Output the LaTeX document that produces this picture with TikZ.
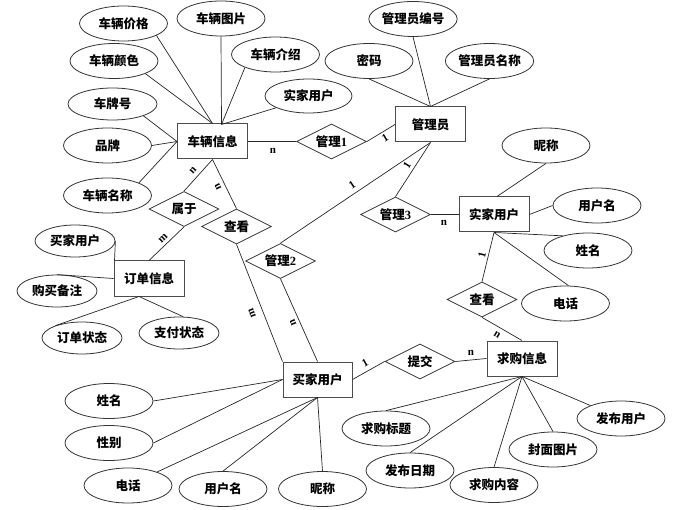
\documentclass[tikz,border=0pt]{standalone}
\usepackage{fontspec}
\setmainfont{Liberation Serif}
\newfontfamily\cjkf{Noto Sans CJK SC}
\usetikzlibrary{shapes.geometric}
\begin{document}
\begin{tikzpicture}[x=1pt,y=-1pt,
  txt/.style={font=\cjkf\bfseries\fontsize{12.5}{14}\selectfont},
  ent/.style={txt,rectangle,draw=black!70,line width=1pt,minimum width=70pt,minimum height=35pt,inner sep=0pt},
  rel/.style={txt,diamond,aspect=2,draw=black!80,line width=0.8pt,minimum width=70pt,minimum height=35pt,inner sep=0pt},
  att/.style={txt,ellipse,draw=black!80,line width=0.8pt,minimum width=88pt,minimum height=35pt,inner sep=0pt},
  small/.style={minimum width=80pt,minimum height=32pt},
  ln/.style={draw=black!85,line width=0.7pt},
  card/.style={font=\bfseries\fontsize{11}{12}\selectfont,inner sep=0pt}]
\useasboundingbox (0,0) rectangle (695,510);

% entities
\node[ent] (car) at (212.5,141.5) {车辆信息};
\node[ent] (admin) at (430.5,124.5) {管理员};
\node[ent] (seller) at (494,214.5) {实家用户};
\node[ent] (order) at (149,278.5) {订单信息};
\node[ent,minimum width=69pt] (buyer) at (317.5,379.5) {买家用户};
\node[ent] (want) at (522,358.5) {求购信息};

% relations
\node[rel] (m1) at (331.5,141.5) {管理{\rmfamily\bfseries 1}};
\node[rel] (m3) at (395.5,214.5) {管理{\rmfamily\bfseries 3}};
\node[rel] (seeR) at (482,299.5) {查看};
\node[rel] (belong) at (184,209) {属于};
\node[rel] (seeL) at (236.5,226.5) {查看};
\node[rel] (m2) at (280.5,261) {管理{\rmfamily\bfseries 2}};
\node[rel] (submit) at (420,361.5) {提交};

% attributes
\node[att] (a1) at (123.5,23.5) {车辆价格};
\node[att] (a2) at (221,18.5) {车辆图片};
\node[att] (a3) at (275.5,54.5) {车辆介绍};
\node[att] (a4) at (114,61) {车辆颜色};
\node[att,minimum width=89pt,minimum height=32pt] (a5) at (112.5,104) {车牌号};
\node[att,minimum width=87pt,minimum height=34pt] (a6) at (308.5,96) {实家用户};
\node[att] (a7) at (107.5,145.5) {品牌};
\node[att] (a8) at (107.5,195.5) {车辆名称};
\node[att] (b1) at (413,19) {管理员编号};
\node[att] (b2) at (369,61) {密码};
\node[att] (b3) at (489.5,61) {管理员名称};
\node[att] (c1) at (546,145.5) {昵称};
\node[att] (c2) at (597,205.5) {用户名};
\node[att] (c3) at (588,250.5) {姓名};
\node[att] (c4) at (565.5,303.5) {电话};
\node[att,small] (d1) at (75,241) {买家用户};
\node[att,small] (d2) at (57,291) {购买备注};
\node[att,small] (d3) at (82,338) {订单状态};
\node[att,small] (d4) at (179,333) {支付状态};
\node[att] (e1) at (109,401) {姓名};
\node[att] (e2) at (109,443) {性别};
\node[att] (e3) at (128,485.5) {电话};
\node[att] (e4) at (223,489) {用户名};
\node[att] (e5) at (322.5,489) {昵称};
\node[att] (f1) at (386,428.5) {求购标题};
\node[att] (f2) at (410,470.5) {发布日期};
\node[att] (f3) at (494,485) {求购内容};
\node[att] (f4) at (553,449.5) {封面图片};
\node[att] (f5) at (621,418.5) {发布用户};

% connectors: car attributes
\draw[ln] (a1.-20) -- (car.north);
\draw[ln] (a4.-22) -- (car.north);
\draw[ln] (a2.south) -- ([xshift=9pt,yshift=-1pt]car.north);
\draw[ln] (a3.203) -- ([xshift=9pt,yshift=-1pt]car.north);
\draw[ln] (a6.200) -- ([xshift=9pt,yshift=-1pt]car.north);
\draw[ln] (a5.-21) -- (car.west);
\draw[ln] (a7.east) -- (car.west);
\draw[ln] (a8.22) -- (car.west);
% admin attributes
\draw[ln] (b1.south) -- (admin.north);
\draw[ln] (b2.south) -- (admin.north);
\draw[ln] (b3.south) -- (admin.north);
% seller attributes
\draw[ln] ([xshift=3pt]seller.north) -- (c1.south);
\draw[ln] (seller.east) -- (c2.west);
\draw[ln] (seller.south) -- (c3.150);
\draw[ln] (seller.south) -- ([xshift=3pt]c4.north);
% order attributes
\draw[ln] (d1.east) -- ([xshift=1pt]order.north west);
\draw[ln] (d2.north) -- (order.west);
\draw[ln] ([xshift=-10pt]order.south) -- (d3.155);
\draw[ln] ([xshift=-10pt]order.south) -- ([xshift=4pt]d4.north);
% buyer attributes
\draw[ln] (e1.east) -- (buyer.west);
\draw[ln] (e2.east) -- (buyer.west);
\draw[ln] (e3) -- (buyer.south);
\draw[ln] (e4.north) -- (buyer.south);
\draw[ln] (e5.north) -- (buyer.south);
% want attributes
\draw[ln] (want.south) -- (f1.north);
\draw[ln] (want.south) -- (f2.north);
\draw[ln] (want.south) -- (f3.north);
\draw[ln] (want.south) -- (f4.north);
\draw[ln] (want.south) -- (f5);

% relationships
\draw[ln] (car.east) -- (m1.west);
\draw[ln] (m1.east) -- (admin.west);
\draw[ln] (admin.south) -- (m3.north);
\draw[ln] (admin.south) -- (m2.north);
\draw[ln] (m3.east) -- (seller.west);
\draw[ln] (seller.south) -- (seeR.north);
\draw[ln] (seeR.south) -- (want.north);
\draw[ln] (car.south) -- (belong.north);
\draw[ln] (car.south) -- (seeL.north);
\draw[ln] (belong.south) -- (order.north);
\draw[ln] (seeL.south) -- (buyer.north west);
\draw[ln] (m2.south) -- (buyer.north);
\draw[ln] (buyer.east) -- (submit.west);
\draw[ln] (submit.east) -- (want.west);

% cardinalities
\node[card] (k1) at (273,151) {n};
\node[card,rotate=48] (k2) at (193,170) {n};
\node[card,rotate=116] (k3) at (218,187) {n};
\node[card,rotate=44] (k4) at (163,238) {m};
\node[card,rotate=31] (k5) at (385,138) {1};
\node[card,rotate=58] (k6) at (407,165) {1};
\node[card,rotate=34] (k7) at (352,185) {1};
\node[card] (k8) at (444,223) {n};
\node[card,rotate=76] (k9) at (482,255) {1};
\node[card,rotate=-31] (k10) at (497,335) {n};
\node[card,rotate=29] (k11) at (365,363) {1};
\node[card] (k12) at (471,353) {n};
\node[card,rotate=111] (k13) at (252,313) {m};
\node[card,rotate=113] (k14) at (293,323) {n};
\end{tikzpicture}
\end{document}
